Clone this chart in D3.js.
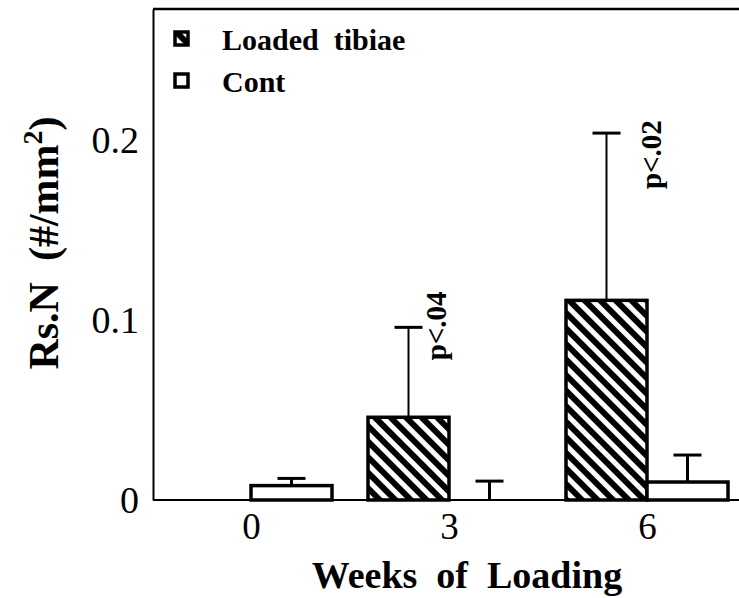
<!DOCTYPE html>
<html>
<head>
<meta charset="utf-8">
<script src="https://cdn.jsdelivr.net/npm/d3@7"></script>
<style>
  body { margin: 0; background: #fff; }
  svg text { font-family: "Liberation Serif", "Times New Roman", serif; fill: #000; white-space: pre; }
</style>
</head>
<body>
<svg id="chart" width="739" height="598"></svg>
<script>
// values
var weeks = ["0", "3", "6"];
var seriesNames = ["Loaded tibiae", "Cont"];
var loadedMeans = [0, 0.046, 0.111];
var loadedErrs = [0, 0.050, 0.093];
var contMeans = [0.008, 0, 0.010];
var contErrs = [0.004, 0.0105, 0.015];
var yTickValues = [0, 0.1, 0.2];
var pLabels = [
    {week: "3", text: "p<.04"},
    {week: "6", text: "p<.02"}
];

var svg = d3.select("#chart");
var plotLeft = 153, plotRight = 739, plotTop = 9, plotBottom = 500;

var y = d3.scaleLinear().domain([0, 0.273]).range([plotBottom, plotTop]);
var x = d3.scalePoint().domain(weeks).range([251, 647]);
var inner = d3.scaleBand().domain(seriesNames).range([-81, 81]);

// hatch for loaded bars
var defs = svg.append("defs");
var pat = defs.append("pattern")
    .attr("id", "hatch")
    .attr("patternUnits", "userSpaceOnUse")
    .attr("width", 11)
    .attr("height", 11)
    .attr("patternTransform", "rotate(-45)");
pat.append("rect").attr("width", 11).attr("height", 11).attr("fill", "#fff");
pat.append("rect").attr("x", 0).attr("width", 6).attr("height", 11).attr("fill", "#000");

// frame
svg.append("line")
    .attr("x1", plotLeft).attr("x2", plotRight).attr("y1", plotTop).attr("y2", plotTop)
    .attr("stroke", "#000").attr("stroke-width", 2.5);
svg.append("line")
    .attr("x1", plotLeft).attr("x2", plotRight).attr("y1", plotBottom).attr("y2", plotBottom)
    .attr("stroke", "#000").attr("stroke-width", 2);

var yAxis = d3.axisLeft(y)
    .tickValues(yTickValues)
    .tickSize(0)
    .tickSizeOuter(0)
    .tickPadding(14)
    .tickFormat(function(d) { return d === 0 ? "0" : d3.format(".1f")(d); });
var gy = svg.append("g")
    .attr("transform", "translate(" + plotLeft + ",0)")
    .call(yAxis);
gy.select(".domain").attr("stroke", "#000").attr("stroke-width", 2);
gy.selectAll("text")
    .attr("font-family", "Liberation Serif, serif")
    .attr("font-size", 38);

var xAxis = d3.axisBottom(x).tickSize(0).tickPadding(13);
var gx = svg.append("g")
    .attr("transform", "translate(0," + plotBottom + ")")
    .call(xAxis);
gx.select(".domain").remove();
gx.selectAll("text")
    .attr("font-family", "Liberation Serif, serif")
    .attr("font-size", 37);

// bars
var flat = [];
weeks.forEach(function(w, i) {
    flat.push({week: w, name: seriesNames[0], v: loadedMeans[i], e: loadedErrs[i]});
    flat.push({week: w, name: seriesNames[1], v: contMeans[i], e: contErrs[i]});
});
function cx(d) { return x(d.week) + inner(d.name) + inner.bandwidth() / 2; }

svg.append("g").selectAll("rect")
    .data(flat.filter(function(d) { return d.v > 0; }))
    .enter().append("rect")
    .attr("x", function(d) { return x(d.week) + inner(d.name); })
    .attr("y", function(d) { return y(d.v); })
    .attr("width", inner.bandwidth())
    .attr("height", function(d) { return y(0) - y(d.v); })
    .attr("fill", function(d) { return d.name === seriesNames[0] ? "url(#hatch)" : "#fff"; })
    .attr("stroke", "#000")
    .attr("stroke-width", 3.5);

// error bars (upper only)
var errs = svg.append("g").selectAll("g")
    .data(flat.filter(function(d) { return d.e > 0; }))
    .enter().append("g");
errs.append("line")
    .attr("x1", cx).attr("x2", cx)
    .attr("y1", function(d) { return y(d.v); })
    .attr("y2", function(d) { return y(d.v + d.e); })
    .attr("stroke", "#000")
    .attr("stroke-width", function(d) { return d.name === seriesNames[0] ? 2 : 3; });
errs.append("line")
    .attr("x1", function(d) { return cx(d) - 14; })
    .attr("x2", function(d) { return cx(d) + 14; })
    .attr("y1", function(d) { return y(d.v + d.e); })
    .attr("y2", function(d) { return y(d.v + d.e); })
    .attr("stroke", "#000")
    .attr("stroke-width", 3);

// p-value notes, vertical
svg.append("g").selectAll("text")
    .data(pLabels)
    .enter().append("text")
    .attr("transform", function(d) {
        var i = weeks.indexOf(d.week);
        var errTop = y(loadedMeans[i] + loadedErrs[i]);
        var px = d.week === "3" ? x(d.week) - 3 : x(d.week) + 14;
        var py = d.week === "3" ? errTop + 33 : errTop + 56;
        return "translate(" + px + "," + py + ") rotate(-90)";
    })
    .attr("font-size", 29)
    .attr("font-weight", "bold")
    .text(function(d) { return d.text; });

// legend
var legend = svg.append("g");
seriesNames.forEach(function(name, i) {
    var ly = 32 + i * 42;
    legend.append("rect")
        .attr("x", 175).attr("y", ly)
        .attr("width", 13).attr("height", 13)
        .attr("fill", i === 0 ? "url(#hatch)" : "#fff")
        .attr("stroke", "#000").attr("stroke-width", 3.5);
    legend.append("text")
        .attr("x", 222).attr("y", ly + 18)
        .attr("font-size", 30)
        .attr("font-weight", "bold")
        .text(i === 0 ? "Loaded  tibiae" : name);
});

// axis titles
svg.append("text")
    .attr("x", 467).attr("y", 588)
    .attr("text-anchor", "middle")
    .attr("font-size", 38)
    .attr("font-weight", "bold")
    .text("Weeks  of  Loading");

var yt = svg.append("text")
    .attr("transform", "translate(58,243) rotate(-90)")
    .attr("text-anchor", "middle")
    .attr("font-size", 42)
    .attr("font-weight", "bold");
yt.append("tspan").text("Rs.N  (#/mm");
yt.append("tspan").attr("font-size", 28).attr("dy", -16).text("2");
yt.append("tspan").attr("dy", 16).text(")");
</script>
</body>
</html>
